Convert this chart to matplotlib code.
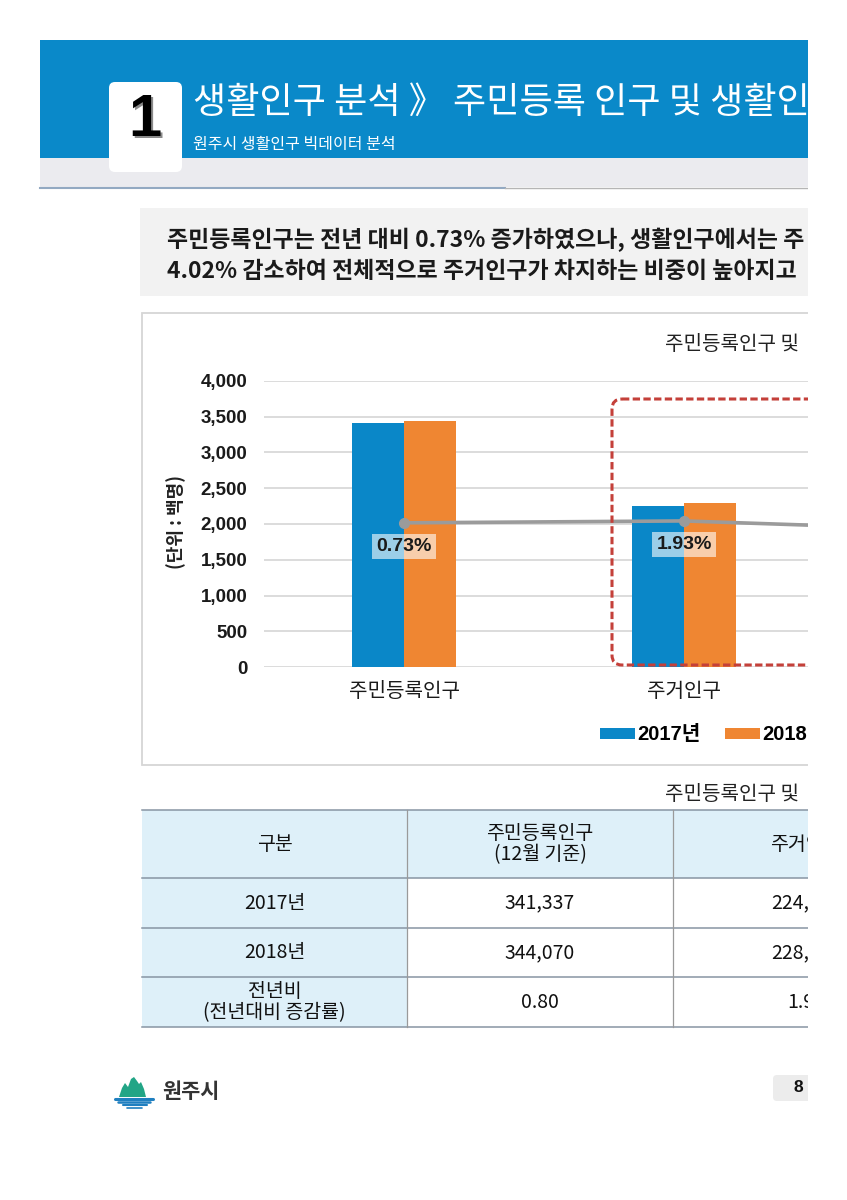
import numpy as np
import matplotlib
matplotlib.use('Agg')
import matplotlib.pyplot as plt
from matplotlib.patches import Rectangle, FancyBboxPatch, Polygon

plt.rcParams['font.family'] = ['Noto Sans CJK KR', 'DejaVu Sans']
plt.rcParams['axes.unicode_minus'] = False

# 차트 데이터 (단위: 백명)
categories = ['주민등록인구', '주거인구', '비주거인구']
pop_2017 = [3413.37, 2245.1]
pop_2018 = [3440.70, 2288.4]
growth_rate = [0.73, 1.93, -4.02]
series_names = ['2017년', '2018년']
yticks = [0, 500, 1000, 1500, 2000, 2500, 3000, 3500, 4000]

# 표 데이터
table_header = ['구분', '주민등록인구\n(12월 기준)', '주거인구']
table_rows = [
    ['2017년', '341,337', '224,512'],
    ['2018년', '344,070', '228,843'],
    ['전년비\n(전년대비 증감률)', '0.80', '1.93'],
]

# 페이지 문구 (오른쪽이 잘린 원본에서 보이는 부분)
page_title = '생활인구 분석 》 주민등록 인구 및 생활인'
page_sub = '원주시 생활인구 빅데이터 분석'
summary = ['주민등록인구는 전년 대비 0.73% 증가하였으나, 생활인구에서는 주',
           '4.02% 감소하여 전체적으로 주거인구가 차지하는 비중이 높아지고']
chart_title = '주민등록인구 및'

BLUE = '#0a87c8'
ORANGE = '#ef8632'
W, H = 847, 1200
LAT = ['Liberation Sans', 'Noto Sans CJK KR']

fig = plt.figure(figsize=(W / 100, H / 100), dpi=100)
bg = fig.add_axes([0, 0, 1, 1])
bg.set_xlim(0, W)
bg.set_ylim(H, 0)
bg.axis('off')

# 상단 헤더
bg.add_patch(Rectangle((40, 40), 768, 118, fc='#0a89c9', ec='none'))
bg.add_patch(Rectangle((40, 158), 768, 29, fc='#ebebef', ec='none'))
bg.plot([40, 505], [187.5, 187.5], color='#93a9c2', lw=1.5)
bg.plot([505, 808], [187.5, 187.5], color='#b5b5b5', lw=1)
bg.add_patch(FancyBboxPatch((109, 82), 73, 90, boxstyle='round,pad=0,rounding_size=6',
                            fc='white', ec='none'))
bg.add_patch(Rectangle((109, 150), 73, 8, fc='white', ec='none'))
bg.text(147, 122, '1', color='#8a8a8a', fontsize=43, fontweight='bold', family=LAT,
        ha='center', va='center')
bg.text(145, 120, '1', color='black', fontsize=43, fontweight='bold', family=LAT,
        ha='center', va='center')
bg.text(193, 103, page_title, color='white', fontsize=26, ha='left', va='center')
bg.text(193, 144, page_sub, color='white', fontsize=11.5, ha='left', va='center')

# 요약 박스
bg.add_patch(Rectangle((140, 208), 668, 88, fc='#f2f2f2', ec='none'))
bg.text(167, 240, summary[0], fontsize=16.5, fontweight='bold', color='#1a1a1a', va='center')
bg.text(167, 272, summary[1], fontsize=16.5, fontweight='bold', color='#1a1a1a', va='center')

# 차트 테두리
bg.add_patch(Rectangle((142, 313), 700, 452, fc='white', ec='#d6d6d6', lw=1.3))
bg.text(665, 345, chart_title, fontsize=14.5, color='#222222', va='center')
bg.text(176, 522, '(단위 : 백명)', fontsize=13, fontweight='bold', color='#222222',
        rotation=90, ha='center', va='center')

# 막대 차트
x0, x_step = 264, 280
ax = fig.add_axes([x0 / W, 1 - 667 / H, 3 * x_step / W, 286 / H])
ax.set_facecolor('none')
x = np.arange(len(categories))
n_vis = len(pop_2017)
bw = 52 / x_step
bars1 = ax.bar(x[:n_vis] - bw / 2, pop_2017, bw, color=BLUE, zorder=3,
               label=series_names[0])
bars2 = ax.bar(x[:n_vis] + bw / 2, pop_2018, bw, color=ORANGE, zorder=3,
               label=series_names[1])
ax.set_xlim(-0.5, len(categories) - 0.5)
ax.set_ylim(0, 4000)
ax.set_yticks(yticks)
ax.set_yticklabels([f'{v:,}' for v in yticks], family=LAT, fontsize=13.5,
                   fontweight='bold', color='#1a1a1a')
ax.set_xticks(x[:n_vis])
ax.set_xticklabels(categories[:n_vis], fontsize=14.5, color='#1a1a1a')
ax.tick_params(axis='y', length=0, pad=12)
ax.tick_params(axis='x', length=0, pad=10)
ax.grid(axis='y', color='#d9d9d9', lw=1.3, zorder=0)
for s in ax.spines.values():
    s.set_visible(False)

ax2 = ax.twinx()
ax2.set_ylim(-90, 90)
ax2.axis('off')
ax2.plot(x, growth_rate, color='#9b9b9b', lw=2.6, marker='o', ms=7, zorder=4)
for i, r in enumerate(growth_rate[:n_vis]):
    ax2.annotate(f'{r:.2f}%', xy=(i, r), xytext=(0, -17), textcoords='offset points',
                 ha='center', va='center', family=LAT, fontsize=14, fontweight='bold',
                 color='#1a1a1a',
                 bbox=dict(boxstyle='square,pad=0.22', fc='white', alpha=0.6, ec='none'))

box = FancyBboxPatch((612, 399), 400, 266, boxstyle='round,pad=0,rounding_size=10',
                     fc='none', ec='#c4403a', lw=2.2, ls=(0, (2.4, 1.1)),
                     transform=bg.transData, zorder=5)
ax2.add_patch(box)
box.set_clip_on(False)

ax.legend(handles=[bars1, bars2], labels=series_names, loc='center left',
          bbox_to_anchor=(600 / W, 1 - 735 / H), bbox_transform=fig.transFigure,
          ncol=2, frameon=False, borderpad=0, borderaxespad=0, handlelength=1.75,
          handleheight=0.45, handletextpad=0.1, columnspacing=1.2,
          prop=dict(family=LAT, weight='bold', size=14.5))

# 표
bg.text(665, 795, chart_title, fontsize=14.5, color='#222222', va='center')
col_edges = [142, 407, 673, 939]
row_edges = [810, 878, 928, 977, 1027]
light = '#def0f9'
bg.add_patch(Rectangle((142, 810), 700, 68, fc=light, ec='none'))
bg.add_patch(Rectangle((142, 878), 265, 149, fc=light, ec='none'))
for yy in row_edges:
    bg.plot([142, 842], [yy, yy], color='#8795a3', lw=1.1)
for xx in col_edges[1:-1]:
    bg.plot([xx, xx], [810, 1027], color='#9a9a9a', lw=0.9)
all_rows = [table_header] + table_rows
for r, row in enumerate(all_rows):
    yc = (row_edges[r] + row_edges[r + 1]) / 2
    for c, val in enumerate(row):
        xc = (col_edges[c] + col_edges[c + 1]) / 2
        bg.text(xc, yc, val, fontsize=14, color='#111111', ha='center', va='center',
                linespacing=1.05)

# 하단 로고 / 페이지 번호
bg.add_patch(Polygon([(119, 1097), (122, 1088), (125, 1083), (128, 1087), (131, 1079),
                      (134, 1077), (137, 1081), (139, 1084), (141, 1082), (144, 1089),
                      (146, 1097)], closed=True, fc='#22a586', ec='none'))
for yy, xa, xb, lw in [(1098.5, 115, 153, 2.2), (1101.5, 118, 150, 1.8),
                       (1104.5, 123, 147, 1.5), (1107.5, 127, 142, 1.2)]:
    bg.plot([xa, xb], [yy, yy], color='#1f7fc0', lw=lw, solid_capstyle='round')
bg.text(162, 1091, '원주시', fontsize=15, fontweight='bold', color='#333333', va='center')
bg.add_patch(FancyBboxPatch((773, 1075), 60, 26, boxstyle='round,pad=0,rounding_size=4',
                            fc='#ececec', ec='none'))
bg.text(798, 1088, '8', fontsize=12.5, fontweight='bold', family=LAT, color='#111111',
        ha='center', va='center')

# 오른쪽 잘린 부분
fig.patches.append(Rectangle((808 / W, 0), 1, 1, transform=fig.transFigure,
                             fc='white', ec='none', zorder=1000))

fig.savefig('out.png', dpi=100)
